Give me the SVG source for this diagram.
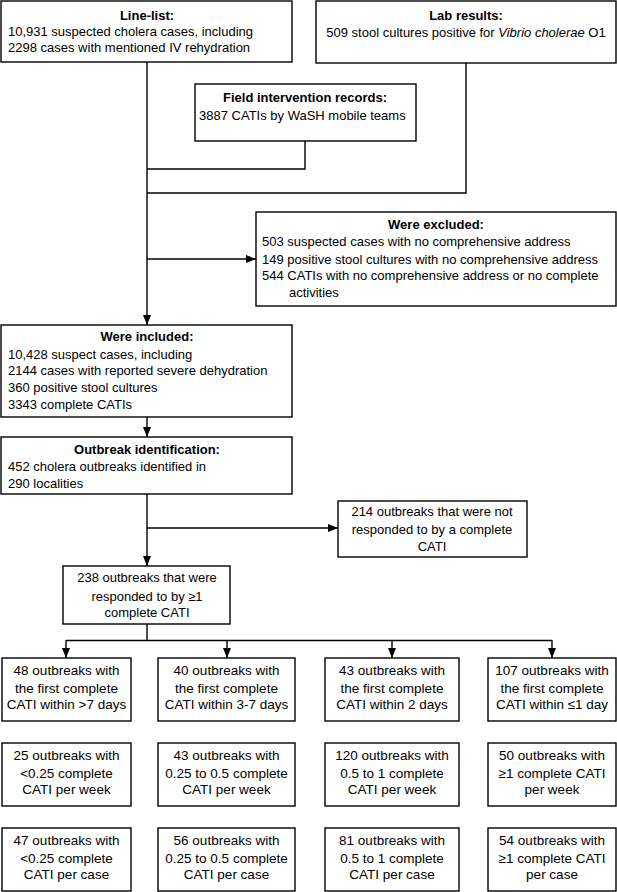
<svg xmlns="http://www.w3.org/2000/svg" width="617" height="892" viewBox="0 0 617 892">
<defs>
<style>
.box{fill:#fff;stroke:#000;stroke-width:1.4}
.ln{fill:none;stroke:#000;stroke-width:1.4}
text{font-family:"Liberation Sans",Arial,sans-serif;font-size:13px;fill:#000}
.t{font-weight:bold;text-anchor:middle}
.c{text-anchor:middle}
.b{font-size:13.5px;text-anchor:middle}
</style>
<marker id="ah" viewBox="0 0 10 10" refX="10" refY="5" markerWidth="10" markerHeight="10" markerUnits="userSpaceOnUse" orient="auto">
<path d="M0,1 L10,5 L0,9 Z" fill="#000"/>
</marker>
</defs>
<rect width="617" height="892" fill="#fff"/>
<g id="connectors">
<path class="ln" d="M147,62 V325" marker-end="url(#ah)"/>
<path class="ln" d="M305,141 V169 H147"/>
<path class="ln" d="M466,63 V193 H147"/>
<path class="ln" d="M147,259 H256" marker-end="url(#ah)"/>
<path class="ln" d="M147,417 V437" marker-end="url(#ah)"/>
<path class="ln" d="M147,494 V566" marker-end="url(#ah)"/>
<path class="ln" d="M147,528 H338" marker-end="url(#ah)"/>
<path class="ln" d="M147,624 V640.5"/>
<path class="ln" d="M66,640.5 H552"/>
<path class="ln" d="M66,640 V658" marker-end="url(#ah)"/>
<path class="ln" d="M227,640 V658" marker-end="url(#ah)"/>
<path class="ln" d="M392,640 V658" marker-end="url(#ah)"/>
<path class="ln" d="M552,640 V658" marker-end="url(#ah)"/>
</g>
<g id="linelist">
<rect class="box" x="1" y="1" width="291" height="61"/>
<text class="t" x="147" y="20">Line-list:</text>
<text x="8" y="36">10,931 suspected cholera cases, including</text>
<text x="8" y="52">2298 cases with mentioned IV rehydration</text>
</g>
<g id="lab">
<rect class="box" x="316" y="1" width="300" height="62"/>
<text class="t" x="466" y="20">Lab results:</text>
<text class="c" x="466" y="37">509 stool cultures positive for <tspan font-style="italic">Vibrio cholerae</tspan> O1</text>
</g>
<g id="field">
<rect class="box" x="195" y="84" width="221" height="57"/>
<text class="t" x="305" y="101.5">Field intervention records:</text>
<text x="199" y="119.5">3887 CATIs by WaSH mobile teams</text>
</g>
<g id="excluded">
<rect class="box" x="256" y="212" width="360" height="94"/>
<text class="t" x="436" y="228.5">Were excluded:</text>
<text x="262" y="246">503 suspected cases with no comprehensive address</text>
<text x="262" y="263.5">149 positive stool cultures with no comprehensive address</text>
<text x="262" y="280">544 CATIs with no comprehensive address or no complete</text>
<text x="289" y="297">activities</text>
</g>
<g id="included">
<rect class="box" x="1" y="325" width="291" height="92"/>
<text class="t" x="147" y="340.5">Were included:</text>
<text x="8" y="358.5">10,428 suspect cases, including</text>
<text x="8" y="375">2144 cases with reported severe dehydration</text>
<text x="8" y="392">360 positive stool cultures</text>
<text x="8" y="408.5">3343 complete CATIs</text>
</g>
<g id="outbreak">
<rect class="box" x="1" y="437" width="291" height="57"/>
<text class="t" x="147" y="454">Outbreak identification:</text>
<text x="8" y="470.5">452 cholera outbreaks identified in</text>
<text x="8" y="488">290 localities</text>
</g>
<g id="notresponded">
<rect class="box" x="338" y="501" width="189" height="56"/>
<text class="c" x="432" y="516">214 outbreaks that were not</text>
<text class="c" x="432" y="534">responded to by a complete</text>
<text class="c" x="432" y="551">CATI</text>
</g>
<g id="responded">
<rect class="box" x="63" y="566" width="167" height="58"/>
<text class="c" x="147" y="582">238 outbreaks that were</text>
<text class="c" x="147" y="600.5">responded to by ≥1</text>
<text class="c" x="147" y="617">complete CATI</text>
</g>
<g id="r1c1">
<rect class="box" x="2" y="658" width="129" height="63"/>
<text class="b" x="66.5" y="675">48 outbreaks with</text>
<text class="b" x="66.5" y="693">the first complete</text>
<text class="b" x="66.5" y="709">CATI within &gt;7 days</text>
</g>
<g id="r1c2">
<rect class="box" x="158" y="658" width="137" height="63"/>
<text class="b" x="226.5" y="675">40 outbreaks with</text>
<text class="b" x="226.5" y="693">the first complete</text>
<text class="b" x="226.5" y="709">CATI within 3-7 days</text>
</g>
<g id="r1c3">
<rect class="box" x="325" y="658" width="134" height="63"/>
<text class="b" x="392" y="675">43 outbreaks with</text>
<text class="b" x="392" y="693">the first complete</text>
<text class="b" x="392" y="709">CATI within 2 days</text>
</g>
<g id="r1c4">
<rect class="box" x="488" y="658" width="128" height="63"/>
<text class="b" x="552" y="675">107 outbreaks with</text>
<text class="b" x="552" y="693">the first complete</text>
<text class="b" x="552" y="709">CATI within ≤1 day</text>
</g>
<g id="r2c1">
<rect class="box" x="2" y="743" width="129" height="63"/>
<text class="b" x="66.5" y="760">25 outbreaks with</text>
<text class="b" x="66.5" y="777.5">&lt;0.25 complete</text>
<text class="b" x="66.5" y="794">CATI per week</text>
</g>
<g id="r2c2">
<rect class="box" x="158" y="743" width="137" height="63"/>
<text class="b" x="226.5" y="760">43 outbreaks with</text>
<text class="b" x="226.5" y="777.5">0.25 to 0.5 complete</text>
<text class="b" x="226.5" y="794">CATI per week</text>
</g>
<g id="r2c3">
<rect class="box" x="325" y="743" width="134" height="63"/>
<text class="b" x="392" y="760">120 outbreaks with</text>
<text class="b" x="392" y="777.5">0.5 to 1 complete</text>
<text class="b" x="392" y="794">CATI per week</text>
</g>
<g id="r2c4">
<rect class="box" x="488" y="743" width="128" height="63"/>
<text class="b" x="552" y="760">50 outbreaks with</text>
<text class="b" x="552" y="777.5">≥1 complete CATI</text>
<text class="b" x="552" y="794">per week</text>
</g>
<g id="r3c1">
<rect class="box" x="2" y="828" width="129" height="63"/>
<text class="b" x="66.5" y="845">47 outbreaks with</text>
<text class="b" x="66.5" y="863">&lt;0.25 complete</text>
<text class="b" x="66.5" y="879">CATI per case</text>
</g>
<g id="r3c2">
<rect class="box" x="158" y="828" width="137" height="63"/>
<text class="b" x="226.5" y="845">56 outbreaks with</text>
<text class="b" x="226.5" y="863">0.25 to 0.5 complete</text>
<text class="b" x="226.5" y="879">CATI per case</text>
</g>
<g id="r3c3">
<rect class="box" x="325" y="828" width="134" height="63"/>
<text class="b" x="392" y="845">81 outbreaks with</text>
<text class="b" x="392" y="863">0.5 to 1 complete</text>
<text class="b" x="392" y="879">CATI per case</text>
</g>
<g id="r3c4">
<rect class="box" x="488" y="828" width="128" height="63"/>
<text class="b" x="552" y="845">54 outbreaks with</text>
<text class="b" x="552" y="863">≥1 complete CATI</text>
<text class="b" x="552" y="879">per case</text>
</g>
</svg>
